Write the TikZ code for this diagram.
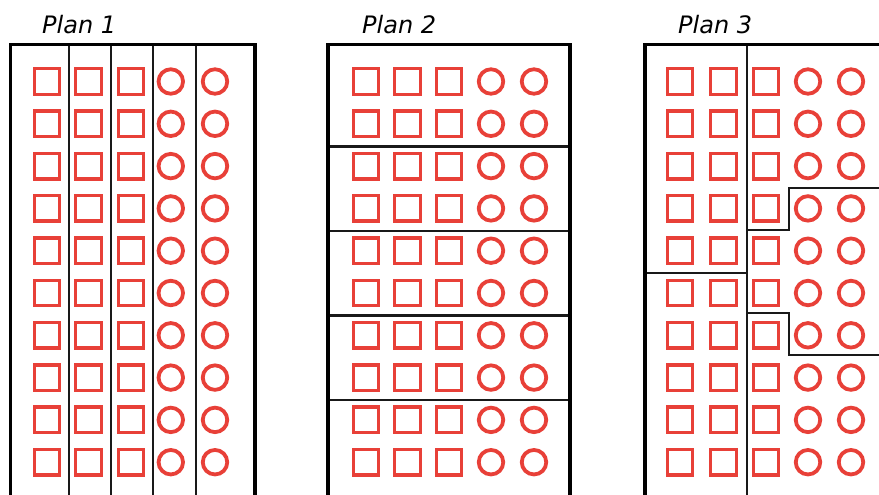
\documentclass[tikz,border=0pt]{standalone}
\usepackage{fontspec}
\setmainfont{DejaVu Sans}
\definecolor{seatred}{RGB}{232,64,56}
\tikzset{
  frame/.style={line width=3.5pt, black, line join=miter},
  divider/.style={line width=2.2pt, black!90, line join=miter},
  sq/.style={draw=seatred, line width=3.4pt, minimum size=25.5pt, inner sep=0pt, rectangle},
  circ/.style={draw=seatred, line width=3.8pt, minimum size=24.5pt, inner sep=0pt, circle},
  title/.style={font=\fontsize{24}{28}\selectfont\itshape, anchor=base west, inner sep=0pt, text=black}
}
\begin{document}
\begin{tikzpicture}[x=1pt,y=-1pt]
\useasboundingbox (0,0) rectangle (879,495);
% titles
\node[title] (t1) at (42,34) {Plan 1};
\node[title] (t2) at (362,34) {Plan 2};
\node[title] (t3) at (678,34) {Plan 3};
% seats
\foreach \r [evaluate=\r as \yy using 81.5+42.3*\r] in {0,...,9}{
  \foreach \x [count=\c] in {47,88.5,131}{\node[sq] (a-\r-\c) at (\x,\yy) {};}
  \foreach \x [count=\c] in {170.8,215}{\node[circ] (ac-\r-\c) at (\x,\yy) {};}
  \foreach \x [count=\c] in {366,407.5,449}{\node[sq] (b-\r-\c) at (\x,\yy) {};}
  \foreach \x [count=\c] in {491,534}{\node[circ] (bc-\r-\c) at (\x,\yy) {};}
  \foreach \x [count=\c] in {680,723.5,766}{\node[sq] (c-\r-\c) at (\x,\yy) {};}
  \foreach \x [count=\c] in {808,851}{\node[circ] (cc-\r-\c) at (\x,\yy) {};}
}
% Plan 1
\foreach \x in {69,111,153,196}{\draw[divider] (\x,44.5) -- (\x,495);}
\draw[frame] (10.5,495) |- (255,44.5) -- (255,495);
% Plan 2
\foreach \y in {146.5,231,315.5,400}{\draw[divider] (328,\y) -- (570,\y);}
\draw[frame] (328,495) |- (570,44.5) -- (570,495);
% Plan 3
\draw[divider] (747,44.5) -- (747,495);
\draw[divider] (645,273) -- (747,273);
\draw[divider] (879,188) -| (789,230) -- (747,230);
\draw[divider] (747,313) -| (789,355) -- (879,355);
\draw[frame] (645,495) |- (879,44.5);
\end{tikzpicture}
\end{document}
